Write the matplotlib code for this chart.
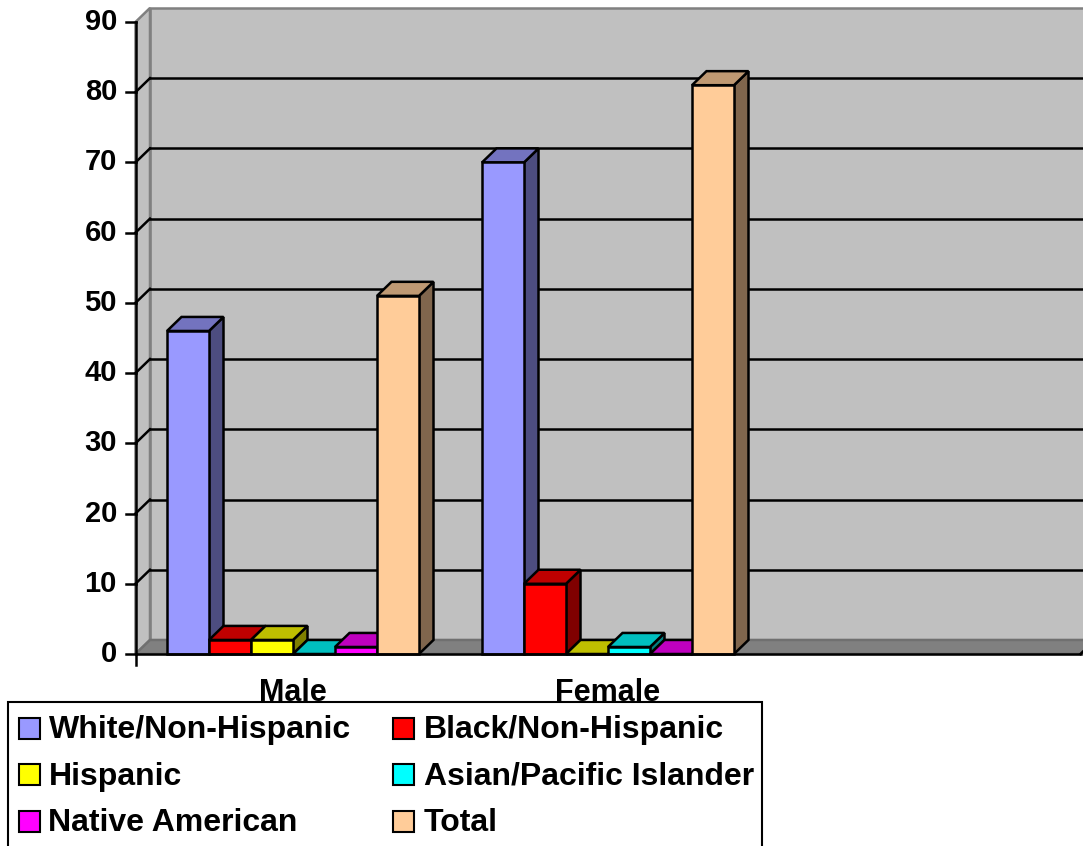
import numpy as np
import matplotlib
matplotlib.use("Agg")
import matplotlib.pyplot as plt
from matplotlib.patches import Polygon, Rectangle
from matplotlib.colors import to_rgb

plt.rcParams['font.family'] = ['Liberation Sans', 'DejaVu Sans']
plt.rcParams['font.weight'] = 'bold'

########################################
# Data
########################################
categories = ["Male", "Female"]
series = ["White/Non-Hispanic", "Black/Non-Hispanic", "Hispanic",
          "Asian/Pacific Islander", "Native American", "Total"]
male_vals = [46, 2, 2, 0, 1, 51]
female_vals = [70, 10, 0, 1, 0, 81]
values = [male_vals, female_vals]
yticks = list(range(0, 100, 10))

colors = ["#9999FF", "#FF0000", "#FFFF00", "#00FFFF", "#FF00FF", "#FFCC99"]

########################################
# Figure / axes geometry
########################################
W, H = 1083, 846
fig = plt.figure(figsize=(W / 100, H / 100), dpi=100)
ax = fig.add_axes([135.5 / W, (H - 654) / H, 945 / W, 632 / H])
n_slots = 3                     # room for three category slots
ax.set_xlim(0, n_slots)
ax.set_ylim(0, 90)
ax.axis("off")

DX = 14.5 / 315                 # depth offset (category units)
DY = 2.0                        # depth offset (value units)
bar_w = 1 / 7.5                 # gap width 150%
LW = 1.8


def shade(c, f):
    return tuple(np.array(to_rgb(c)) * f)


def poly(pts, fc, ec="black", lw=LW, z=2):
    p = Polygon(pts, closed=True, facecolor=fc, edgecolor=ec, linewidth=lw,
                joinstyle="miter", zorder=z, clip_on=False)
    ax.add_patch(p)


########################################
# Walls and floor
########################################
top = 90
poly([(DX, DY), (n_slots + DX, DY), (n_slots + DX, top + DY), (DX, top + DY)],
     "#C0C0C0", ec="#808080", z=1)
poly([(0, 0), (DX, DY), (DX, top + DY), (0, top)], "#C0C0C0", ec="#808080", z=1)
poly([(0, 0), (n_slots, 0), (n_slots + DX, DY), (DX, DY)], "#808080",
     ec="#707070", z=1)

for v in yticks[1:-1]:
    ax.plot([0, DX], [v, v + DY], color="black", lw=LW, zorder=1.5, clip_on=False)
    ax.plot([DX, n_slots + DX], [v + DY, v + DY], color="black", lw=LW,
            zorder=1.5, clip_on=False)

########################################
# 3D columns
########################################
for ci, vals in enumerate(values):
    for si, h in enumerate(vals):
        x0 = ci + 0.75 * bar_w + si * bar_w
        c = colors[si]
        poly([(x0 + bar_w, 0), (x0 + bar_w + DX, DY), (x0 + bar_w + DX, h + DY),
              (x0 + bar_w, h)], shade(c, 0.5))
        poly([(x0, h), (x0 + bar_w, h), (x0 + bar_w + DX, h + DY),
              (x0 + DX, h + DY)], shade(c, 0.75))
        poly([(x0, 0), (x0 + bar_w, 0), (x0 + bar_w, h), (x0, h)], c)

########################################
# Axes lines, ticks, labels
########################################
px_y = 90 / 632                 # value units per pixel
px_x = 1 / 315                  # category units per pixel
ax.plot([0, 0], [-11 * px_y, 90], color="black", lw=LW, zorder=3, clip_on=False)
ax.plot([0, n_slots], [0, 0], color="black", lw=LW, zorder=3, clip_on=False)
ax.plot([n_slots, n_slots + DX], [0, DY], color="black", lw=LW, zorder=3,
        clip_on=False)
for v in yticks:
    ax.plot([-10 * px_x, 0], [v, v], color="black", lw=LW, zorder=3, clip_on=False)
    ax.text(-18.5 * px_x, v, str(v), ha="right", va="center", fontsize=21,
            fontweight="bold")

for ci, name in enumerate(categories):
    ax.text(ci + 0.5, -47 * px_y, name, ha="center", va="baseline",
            fontsize=22, fontweight="bold", zorder=1)

########################################
# Legend (box runs off the bottom edge)
########################################
def fx(x):
    return x / W


def fy(y):
    return 1 - y / H


fig.add_artist(Rectangle((fx(8.3), fy(852)), fx(762.3) - fx(8.3), fy(702) - fy(852),
                         transform=fig.transFigure, facecolor="white",
                         edgecolor="black", linewidth=1.5, zorder=5))
col_x = [18.5, 393.5]
row_y = [728, 774.5, 821]
for i, (name, c) in enumerate(zip(series, colors)):
    mx = col_x[i % 2]
    my = row_y[i // 2]
    fig.add_artist(Rectangle((fx(mx), fy(my + 10.5)), fx(21), 21 / H,
                             transform=fig.transFigure, facecolor=c,
                             edgecolor="black", linewidth=1.5, zorder=6))
    fig.text(fx(mx + 30), fy(my + 10), name, ha="left", va="baseline",
             fontsize=23, fontweight="bold", zorder=6)

fig.savefig("out.png", dpi=100)
